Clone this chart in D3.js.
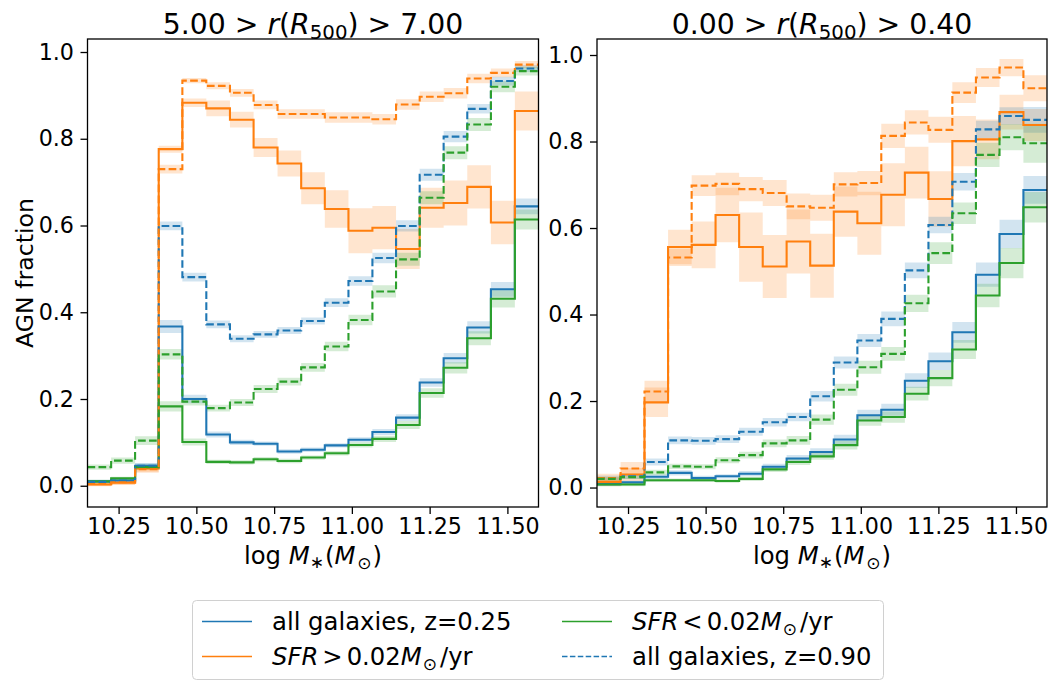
<!DOCTYPE html>
<html>
<head>
<meta charset="utf-8">
<script src="https://cdn.jsdelivr.net/npm/d3@7"></script>
<style>
  html, body { margin: 0; padding: 0; background: #ffffff; }
  svg { display: block; font-family: "DejaVu Sans", sans-serif; }
</style>
</head>
<body>
<svg id="chart" width="1057" height="682"></svg>
<script>
// ---------------- DATA ----------------
const binEdges = [10.15, 10.226, 10.303, 10.379, 10.455, 10.532, 10.608, 10.684, 10.761, 10.837,
                  10.913, 10.989, 11.066, 11.142, 11.218, 11.295, 11.371, 11.447, 11.524, 11.60];
const xTicks = [10.25, 10.50, 10.75, 11.00, 11.25, 11.50];
const yTicks = [0.0, 0.2, 0.4, 0.6, 0.8, 1.0];

// Left panel: 5.00 > r > 7.00
const outerAllLo   = [0.010,0.012,0.046,0.367,0.200,0.118,0.100,0.097,0.079,0.083,0.093,0.106,0.124,0.157,0.238,0.294,0.365,0.453,0.644];
const outerAllLoE  = [0.004,0.004,0.006,0.015,0.010,0.007,0.006,0.005,0.005,0.005,0.005,0.006,0.007,0.008,0.010,0.012,0.014,0.017,0.018];
const outerSfLo    = [0.003,0.007,0.040,0.776,0.883,0.870,0.844,0.780,0.743,0.686,0.638,0.588,0.595,0.546,0.641,0.652,0.689,0.607,0.864];
const outerSfLoE   = [0.004,0.005,0.008,0.008,0.010,0.018,0.018,0.022,0.030,0.037,0.043,0.052,0.050,0.046,0.046,0.052,0.050,0.050,0.045];
const outerQLo     = [0.010,0.017,0.043,0.183,0.101,0.055,0.054,0.061,0.057,0.065,0.075,0.094,0.108,0.140,0.214,0.272,0.340,0.431,0.614];
const outerQLoE    = [0.004,0.004,0.006,0.012,0.008,0.005,0.005,0.005,0.005,0.005,0.005,0.006,0.007,0.009,0.011,0.013,0.016,0.020,0.023];
const outerAllHi   = [0.009,0.012,0.046,0.599,0.481,0.372,0.339,0.349,0.358,0.380,0.422,0.472,0.525,0.599,0.717,0.805,0.869,0.933,0.962];
const outerAllHiE  = [0.004,0.004,0.006,0.010,0.010,0.009,0.008,0.008,0.008,0.008,0.010,0.011,0.012,0.013,0.014,0.013,0.011,0.010,0.008];
const outerSfHi    = [0.004,0.008,0.038,0.730,0.934,0.922,0.906,0.878,0.857,0.857,0.849,0.849,0.845,0.879,0.897,0.905,0.939,0.952,0.971];
const outerSfHiE   = [0.004,0.005,0.008,0.010,0.006,0.008,0.009,0.010,0.011,0.011,0.012,0.012,0.012,0.012,0.012,0.012,0.011,0.010,0.008];
const outerQHi     = [0.043,0.058,0.104,0.303,0.194,0.179,0.192,0.223,0.240,0.273,0.321,0.382,0.448,0.522,0.664,0.768,0.833,0.920,0.956];
const outerQHiE    = [0.006,0.007,0.010,0.012,0.009,0.008,0.008,0.009,0.009,0.010,0.011,0.012,0.014,0.015,0.015,0.015,0.015,0.013,0.010];

// Right panel: 0.00 > r > 0.40
const innerAllLo   = [0.008,0.012,0.025,0.034,0.022,0.026,0.032,0.048,0.067,0.082,0.111,0.167,0.180,0.247,0.292,0.359,0.492,0.586,0.688];
const innerAllLoE  = [0.004,0.004,0.005,0.006,0.005,0.005,0.006,0.007,0.008,0.009,0.011,0.013,0.014,0.017,0.020,0.024,0.028,0.033,0.032];
const innerSfLo    = [0.013,0.030,0.197,0.556,0.561,0.630,0.556,0.511,0.569,0.513,0.638,0.611,0.677,0.728,0.667,0.801,0.805,0.868,0.838];
const innerSfLoE   = [0.010,0.015,0.034,0.040,0.054,0.063,0.080,0.073,0.074,0.074,0.058,0.073,0.073,0.060,0.064,0.058,0.046,0.040,0.037];
const innerQLo     = [0.007,0.007,0.017,0.017,0.017,0.015,0.020,0.042,0.059,0.072,0.098,0.155,0.163,0.217,0.253,0.319,0.444,0.519,0.648];
const innerQLoE    = [0.004,0.004,0.004,0.004,0.004,0.004,0.005,0.006,0.007,0.008,0.010,0.012,0.013,0.016,0.019,0.022,0.027,0.035,0.035];
const innerAllHi   = [0.022,0.026,0.059,0.109,0.108,0.112,0.129,0.151,0.163,0.211,0.289,0.340,0.390,0.502,0.607,0.707,0.828,0.859,0.850];
const innerAllHiE  = [0.006,0.006,0.008,0.009,0.009,0.009,0.009,0.010,0.010,0.012,0.014,0.015,0.017,0.018,0.019,0.020,0.020,0.020,0.030];
const innerSfHi    = [0.022,0.044,0.222,0.532,0.698,0.702,0.690,0.681,0.650,0.647,0.701,0.704,0.813,0.844,0.827,0.913,0.948,0.971,0.923];
const innerSfHiE   = [0.010,0.015,0.025,0.020,0.024,0.026,0.028,0.030,0.030,0.030,0.028,0.028,0.028,0.028,0.030,0.024,0.022,0.020,0.030];
const innerQHi     = [0.020,0.024,0.035,0.049,0.048,0.063,0.075,0.102,0.109,0.157,0.226,0.278,0.309,0.426,0.542,0.634,0.769,0.810,0.796];
const innerQHiE    = [0.005,0.005,0.006,0.006,0.006,0.007,0.008,0.009,0.010,0.012,0.014,0.015,0.016,0.020,0.025,0.025,0.028,0.030,0.045];

const legendLabels = ["all galaxies, z=0.25", "SFR > 0.02M⊙/yr", "SFR < 0.02M⊙/yr", "all galaxies, z=0.90"];

// ---------------- STYLE ----------------
const C_BLUE = "#1f77b4", C_ORANGE = "#ff7f0e", C_GREEN = "#2ca02c";
const DASH = "7.7,3.3";
const FONT = "DejaVu Sans";

const svg = d3.select("#chart");

const panels = [
  { left: 87.5, right: 538.5, top: 39, bottom: 507, yDomain: [-0.049, 1.030],
    title: ["5.00", "7.00"],
    series: [
      { v: outerAllLo, e: outerAllLoE, c: C_BLUE, dash: null },
      { v: outerSfLo,  e: outerSfLoE,  c: C_ORANGE, dash: null },
      { v: outerQLo,   e: outerQLoE,   c: C_GREEN, dash: null },
      { v: outerAllHi, e: outerAllHiE, c: C_BLUE, dash: DASH },
      { v: outerSfHi,  e: outerSfHiE,  c: C_ORANGE, dash: DASH },
      { v: outerQHi,   e: outerQHiE,   c: C_GREEN, dash: DASH }
    ], ylabel: true },
  { left: 597, right: 1047, top: 39, bottom: 507, yDomain: [-0.045, 1.037],
    title: ["0.00", "0.40"],
    series: [
      { v: innerAllLo, e: innerAllLoE, c: C_BLUE, dash: null },
      { v: innerSfLo,  e: innerSfLoE,  c: C_ORANGE, dash: null },
      { v: innerQLo,   e: innerQLoE,   c: C_GREEN, dash: null },
      { v: innerAllHi, e: innerAllHiE, c: C_BLUE, dash: DASH },
      { v: innerSfHi,  e: innerSfHiE,  c: C_ORANGE, dash: DASH },
      { v: innerQHi,   e: innerQHiE,   c: C_GREEN, dash: DASH }
    ], ylabel: false }
];

panels.forEach((p, pi) => {
  const x = d3.scaleLinear().domain([10.15, 11.60]).range([p.left, p.right]);
  const y = d3.scaleLinear().domain(p.yDomain).range([p.bottom, p.top]);
  const clipId = "clip" + pi;
  svg.append("clipPath").attr("id", clipId).append("rect")
    .attr("x", p.left).attr("y", p.top).attr("width", p.right - p.left).attr("height", p.bottom - p.top);

  const g = svg.append("g").attr("clip-path", `url(#${clipId})`);

  const pts = s => binEdges.map((edge, i) => ({ x: edge, v: s.v[Math.min(i, s.v.length - 1)], e: s.e[Math.min(i, s.e.length - 1)] }));
  const area = d3.area().x(d => x(d.x)).y0(d => y(d.v - d.e)).y1(d => y(d.v + d.e)).curve(d3.curveStepAfter);
  const line = d3.line().x(d => x(d.x)).y(d => y(d.v)).curve(d3.curveStepAfter);

  p.series.forEach(s => {
    g.append("path").attr("d", area(pts(s))).attr("fill", s.c).attr("fill-opacity", 0.2).attr("stroke", "none");
  });
  p.series.forEach(s => {
    g.append("path").attr("d", line(pts(s))).attr("fill", "none").attr("stroke", s.c)
      .attr("stroke-width", 2.1).attr("stroke-dasharray", s.dash);
  });

  // axes
  const xAxis = d3.axisBottom(x).tickValues(xTicks).tickFormat(d3.format(".2f")).tickSize(7).tickSizeOuter(0).tickPadding(4);
  const yAxis = d3.axisLeft(y).tickValues(yTicks).tickFormat(d3.format(".1f")).tickSize(7).tickSizeOuter(0).tickPadding(6.5);
  const gx = svg.append("g").attr("transform", `translate(0,${p.bottom})`).call(xAxis);
  const gy = svg.append("g").attr("transform", `translate(${p.left},0)`).call(yAxis);
  [gx, gy].forEach(a => {
    a.select(".domain").remove();
    a.selectAll(".tick line").attr("stroke", "#000").attr("stroke-width", 1.3);
    a.selectAll(".tick text").attr("fill", "#000").style("font-family", FONT).style("font-size", "22.2px");
  });

  // frame
  svg.append("rect").attr("x", p.left).attr("y", p.top).attr("width", p.right - p.left).attr("height", p.bottom - p.top)
    .attr("fill", "none").attr("stroke", "#000").attr("stroke-width", 1.3);

  // title
  const cx = (p.left + p.right) / 2;
  const t = svg.append("text").attr("x", cx).attr("y", 34).attr("text-anchor", "middle")
    .style("font-family", FONT).style("font-size", "28.3px").attr("fill", "#000");
  t.append("tspan").text(p.title[0] + " > ");
  t.append("tspan").style("font-style", "italic").text("r");
  t.append("tspan").text("(");
  t.append("tspan").style("font-style", "italic").text("R");
  t.append("tspan").attr("dy", 5).style("font-size", "19.8px").text("500");
  t.append("tspan").attr("dy", -5).text(")");
  t.append("tspan").text(" > " + p.title[1]);

  // x label
  const xl = svg.append("text").attr("x", cx).attr("y", 564).attr("text-anchor", "middle")
    .style("font-family", FONT).style("font-size", "24.3px").attr("fill", "#000");
  xl.append("tspan").text("log ");
  xl.append("tspan").style("font-style", "italic").text("M");
  xl.append("tspan").attr("dy", 4).style("font-size", "17px").text("∗");
  xl.append("tspan").attr("dy", -4).attr("dx", 1).text("(");
  xl.append("tspan").style("font-style", "italic").text("M");
  xl.append("tspan").attr("dy", 5).attr("dx", 2).style("font-size", "17px").text("⊙");
  xl.append("tspan").attr("dy", -5).attr("dx", 1).text(")");

  if (p.ylabel) {
    svg.append("text").attr("transform", `translate(33,${(p.top + p.bottom) / 2}) rotate(-90)`)
      .attr("text-anchor", "middle").style("font-family", FONT).style("font-size", "23.6px").attr("fill", "#000")
      .text("AGN fraction");
  }
});

// ---------------- LEGEND ----------------
const lg = svg.append("g");
lg.append("rect").attr("x", 192.5).attr("y", 600.5).attr("width", 691).attr("height", 79).attr("rx", 4)
  .attr("fill", "#fff").attr("fill-opacity", 0.8).attr("stroke", "#d0d0d0").attr("stroke-width", 1);

const legendItems = [
  { label: legendLabels[0], c: C_BLUE, dash: null, lx: 202, tx: 272, y: 621.5, math: false },
  { label: legendLabels[1], c: C_ORANGE, dash: null, lx: 202, tx: 272, y: 656.5, math: ">" },
  { label: legendLabels[2], c: C_GREEN, dash: null, lx: 562, tx: 632, y: 621.5, math: "<" },
  { label: legendLabels[3], c: C_BLUE, dash: "5.5,2.4", lx: 562, tx: 632, y: 656.5, math: false }
];
legendItems.forEach(it => {
  lg.append("line").attr("x1", it.lx).attr("x2", it.lx + 50).attr("y1", it.y).attr("y2", it.y)
    .attr("stroke", it.c).attr("stroke-width", 1.5).attr("stroke-dasharray", it.dash);
  const tt = lg.append("text").attr("x", it.tx).attr("y", it.y + 8.5)
    .style("font-family", FONT).style("font-size", "24.3px").attr("fill", "#000");
  if (!it.math) {
    tt.text(it.label);
  } else {
    tt.append("tspan").style("font-style", "italic").text("SFR");
    tt.append("tspan").attr("dx", 4).text(it.math);
    tt.append("tspan").attr("dx", 4).text("0.02");
    tt.append("tspan").style("font-style", "italic").text("M");
    tt.append("tspan").attr("dy", 5).attr("dx", 1).style("font-size", "17px").text("⊙");
    tt.append("tspan").attr("dy", -5).attr("dx", 3).text("/yr");
  }
});
</script>
</body>
</html>
